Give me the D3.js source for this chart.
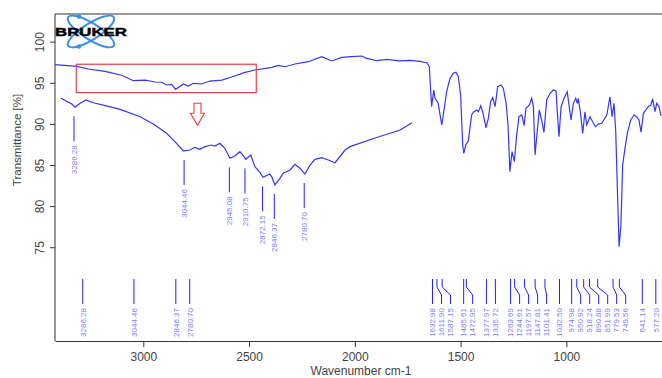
<!DOCTYPE html>
<html>
<head>
<meta charset="utf-8">
<script src="https://cdn.jsdelivr.net/npm/d3@7"></script>
<style>
  body { margin: 0; background: #fff; }
  svg { display: block; font-family: "Liberation Sans", Arial, sans-serif; }
</style>
</head>
<body>
<svg id="chart"></svg>
<script>
const width = 662;
const height = 378;

// main spectrum: wavenumber (cm-1) and transmittance (%)
const mainWave = [3417, 3315, 3260, 3181, 3102, 3047, 2992, 2945, 2913, 2890, 2866, 2847, 2811, 2787, 2764, 2724,
  2685, 2629, 2582, 2519, 2472, 2393, 2362, 2330, 2283, 2220, 2157, 2109, 2062, 2015, 1968, 1944, 1897, 1849,
  1787, 1739, 1692, 1660, 1648, 1637, 1627, 1621, 1610, 1606, 1589, 1566, 1550, 1535, 1522, 1511, 1500, 1490,
  1485, 1476, 1464, 1448, 1440, 1424, 1416, 1405, 1396, 1380, 1369, 1358, 1348, 1337, 1325, 1309, 1298, 1285,
  1276, 1267, 1257, 1246, 1235, 1224, 1211, 1200, 1191, 1175, 1164, 1156, 1148, 1138, 1128, 1117, 1106, 1093,
  1077, 1062, 1049, 1043, 1035, 1025, 1011, 996, 978, 967, 956, 948, 944, 934, 923, 912, 904, 888, 876, 863,
  849, 833, 809, 794, 784, 775, 767, 759, 751, 742, 734, 723, 712, 696, 680, 668, 657, 647, 636, 624, 613, 601,
  592, 581, 573, 562, 554, 548];
const mainTrans = [97.2, 97.0, 96.67, 96.39, 95.91, 95.25, 95.33, 95.09, 95.06, 94.73, 94.81, 94.2, 94.85, 94.6, 94.93, 94.85,
  95.21, 95.33, 95.7, 96.27, 96.55, 96.88, 97.12, 96.95, 97.28, 97.56, 98.17, 97.65, 98.09, 98.17, 98.25, 97.97, 97.68, 97.85,
  97.65, 97.73, 97.61, 97.44, 96.95, 92.09, 94.12, 93.11, 92.7, 92.5, 89.86, 93.91, 95.54, 96.15, 96.27, 95.74, 93.51, 87.43,
  86.42, 87.43, 87.92, 91.08, 91.41, 91.69, 91.48, 92.21, 91.48, 89.53, 90.68, 92.7, 93.18, 92.09, 94.52, 94.73, 94.33, 92.5,
  89.86, 84.18, 86.62, 85.4, 88.65, 90.87, 91.08, 89.78, 91.89, 92.29, 93.11, 92.09, 86.21, 89.05, 91.69, 90.47, 88.98, 92.9,
  93.72, 94.12, 94.0, 91.48, 88.44, 92.09, 93.11, 93.91, 90.47, 92.5, 93.11, 92.5, 93.11, 91.48, 88.85, 91.48, 89.86, 90.87, 90.26, 89.66,
  89.98, 90.07, 91.08, 93.3, 90.87, 92.5, 89.25, 82.17, 75.06, 77.7, 85.0, 87.03, 88.85, 90.47, 91.08, 90.87, 90.47, 88.98, 91.29, 91.69, 92.09, 92.29,
  93.02, 91.48, 92.5, 92.09, 91.08, 91.08];

// magnified inset of the 3317-2544 cm-1 region (apparent transmittance)
const insetWave = [3315, 3291, 3284, 3273, 3260, 3244, 3222, 3185, 3141, 3112, 3083, 3061, 3046, 3032, 3021, 3010,
  2999, 2984, 2977, 2966, 2955, 2944, 2933, 2922, 2916, 2909, 2898, 2889, 2879, 2871, 2857, 2852, 2845, 2834,
  2827, 2812, 2801, 2790, 2779, 2768, 2757, 2742, 2728, 2713, 2691, 2680, 2625, 2570, 2544];
const insetTrans = [93.11, 92.42, 92.02, 92.5, 92.9, 92.57, 92.29, 91.77, 90.87, 89.98, 88.85, 87.64, 86.7, 86.82, 87.15, 86.91,
  87.23, 87.43, 87.31, 87.64, 87.03, 85.81, 86.09, 86.62, 86.22, 85.69, 86.22, 84.79, 84.18, 83.5, 83.9, 83.58, 82.57, 83.38,
  83.99, 84.39, 85.08, 84.6, 83.9, 85.0, 85.69, 85.89, 85.61, 85.28, 86.82, 87.23, 88.28, 89.25, 90.14];

const insetPeaks = [3286.28, 3044.46, 2945.08, 2910.75, 2872.15, 2846.37, 2780.70];
const insetPeakTrans = [92.02, 86.70, 85.81, 85.69, 83.50, 82.57, 83.90];

const peakList = [3286.28, 3044.46, 2846.37, 2780.70, 1632.98, 1611.90, 1587.15, 1485.61, 1472.95, 1377.97,
  1335.72, 1263.69, 1244.61, 1197.57, 1147.81, 1101.41, 1032.50, 974.98, 950.92, 918.24, 890.88, 851.99,
  779.53, 749.56, 641.14, 577.20];

const xTicks = [3000, 2500, 2000, 1500, 1000];
const yTicks = [100, 95, 90, 85, 80, 75];

const zoomBox = {w1: 3317, w2: 2466, t1: 97.25, t2: 93.8};

const plotLeft = 55, plotTop = 14, plotBottom = 341;

const svg = d3.select('#chart')
  .attr('width', width)
  .attr('height', height);

const x = d3.scaleLinear().domain([3417.5, 548]).range([plotLeft, width]);
const y = d3.scaleLinear().domain([103.36, 63.6]).range([plotTop, plotBottom]);
const xInset = d3.scaleLinear().domain([3317, 2544]).range([60, 412]);

const lineColor = '#3535ff';
const labelColor = '#8080ff';

// frame
svg.append('line')
  .attr('x1', plotLeft).attr('x2', width)
  .attr('y1', plotTop).attr('y2', plotTop)
  .attr('stroke', '#333').attr('stroke-width', 1);

const xAxis = svg.append('g')
  .attr('transform', `translate(0,${plotBottom})`)
  .call(d3.axisBottom(x).tickValues(xTicks).tickFormat(d3.format('d'))
    .tickSize(6).tickPadding(5).tickSizeOuter(0));
xAxis.select('.domain').attr('stroke', '#333');
xAxis.selectAll('.tick line').attr('stroke', '#333');
xAxis.selectAll('text').attr('font-size', 12).attr('fill', '#444')
  .attr('font-family', '"Liberation Sans", Arial, sans-serif');

const yAxis = svg.append('g')
  .attr('transform', `translate(${plotLeft},0)`)
  .call(d3.axisLeft(y).tickValues(yTicks).tickSize(5).tickSizeOuter(0));
yAxis.select('.domain').attr('d', `M0,${plotTop}V${plotBottom}`).attr('stroke', '#333');
yAxis.selectAll('.tick line').attr('stroke', '#333');
yAxis.selectAll('text')
  .attr('font-size', 12).attr('fill', '#444')
  .attr('font-family', '"Liberation Sans", Arial, sans-serif')
  .attr('x', null).attr('dy', null)
  .attr('text-anchor', 'middle')
  .attr('transform', 'translate(-11,0) rotate(-90)');

svg.append('text')
  .attr('x', 361).attr('y', 375)
  .attr('text-anchor', 'middle')
  .attr('font-size', 12).attr('fill', '#444')
  .text('Wavenumber cm-1');

svg.append('text')
  .attr('transform', 'translate(21,140) rotate(-90)')
  .attr('text-anchor', 'middle')
  .attr('font-size', 11.5).attr('fill', '#444')
  .text('Transmittance [%]');

// logo
const logo = svg.append('g').attr('transform', 'translate(91,31.5)');
[-32, 32].forEach(a => {
  logo.append('ellipse')
    .attr('rx', 27).attr('ry', 8)
    .attr('transform', `rotate(${a})`)
    .attr('fill', 'none').attr('stroke', '#3a8ee6').attr('stroke-width', 2);
});
logo.append('circle').attr('cx', -12).attr('cy', -15).attr('r', 2.2).attr('fill', '#3a8ee6');
logo.append('circle').attr('cx', -12).attr('cy', 15).attr('r', 2.2).attr('fill', '#3a8ee6');
svg.append('text')
  .attr('x', 55).attr('y', 36)
  .attr('font-size', 10.5).attr('font-weight', 900)
  .attr('textLength', 72).attr('lengthAdjust', 'spacingAndGlyphs')
  .attr('stroke', '#000').attr('stroke-width', 0.4)
  .attr('fill', '#000')
  .text('BRUKER');

// spectrum lines
const mainData = mainWave.map((w, i) => [w, mainTrans[i]]);
const insetData = insetWave.map((w, i) => [w, insetTrans[i]]);

svg.append('path')
  .datum(mainData)
  .attr('fill', 'none').attr('stroke', lineColor).attr('stroke-width', 1.2)
  .attr('d', d3.line().x(d => x(d[0])).y(d => y(d[1])));

svg.append('path')
  .datum(insetData)
  .attr('fill', 'none').attr('stroke', lineColor).attr('stroke-width', 1.2)
  .attr('d', d3.line().x(d => xInset(d[0])).y(d => y(d[1])));

// zoom box and arrow
svg.append('rect')
  .attr('x', x(zoomBox.w1)).attr('y', y(zoomBox.t1))
  .attr('width', x(zoomBox.w2) - x(zoomBox.w1))
  .attr('height', y(zoomBox.t2) - y(zoomBox.t1))
  .attr('fill', 'none').attr('stroke', '#e8404a').attr('stroke-width', 1.2);

const ax = x(2744), ay = y(92.5);
svg.append('path')
  .attr('d', `M${ax - 3.5},${ay} H${ax + 3.5} V${ay + 10} H${ax + 7} L${ax},${ay + 22} L${ax - 7},${ay + 10} H${ax - 3.5} Z`)
  .attr('fill', 'none').attr('stroke', '#e8404a').attr('stroke-width', 1.1);

// inset peak picks
const insetGroup = svg.append('g');
insetPeaks.forEach((w, i) => {
  const px = xInset(w);
  const top = y(insetPeakTrans[i]) + 9;
  insetGroup.append('line')
    .attr('x1', px).attr('x2', px)
    .attr('y1', top).attr('y2', top + 25)
    .attr('stroke', '#2020ff').attr('stroke-width', 1);
  insetGroup.append('text')
    .attr('transform', `translate(${px},${top + 29}) rotate(-90)`)
    .attr('text-anchor', 'end').attr('dy', '0.35em')
    .attr('font-size', 8).attr('fill', labelColor)
    .text(w.toFixed(2));
});

// bottom peak table, labels spread apart
const spacing = 9;
let last = -Infinity;
const peakPos = peakList.map(w => {
  const tx = x(w);
  const lx = Math.max(tx, last + spacing);
  last = lx;
  return {w, tx, lx};
});

const peakGroup = svg.append('g');
peakPos.forEach(p => {
  peakGroup.append('polyline')
    .attr('points', `${p.tx},279 ${p.tx},287 ${p.lx},295 ${p.lx},304`)
    .attr('fill', 'none').attr('stroke', '#2020ff').attr('stroke-width', 1);
  peakGroup.append('text')
    .attr('transform', `translate(${p.lx},308) rotate(-90)`)
    .attr('text-anchor', 'end').attr('dy', '0.35em')
    .attr('font-size', 8).attr('fill', labelColor)
    .text(p.w.toFixed(2));
});
</script>
</body>
</html>
